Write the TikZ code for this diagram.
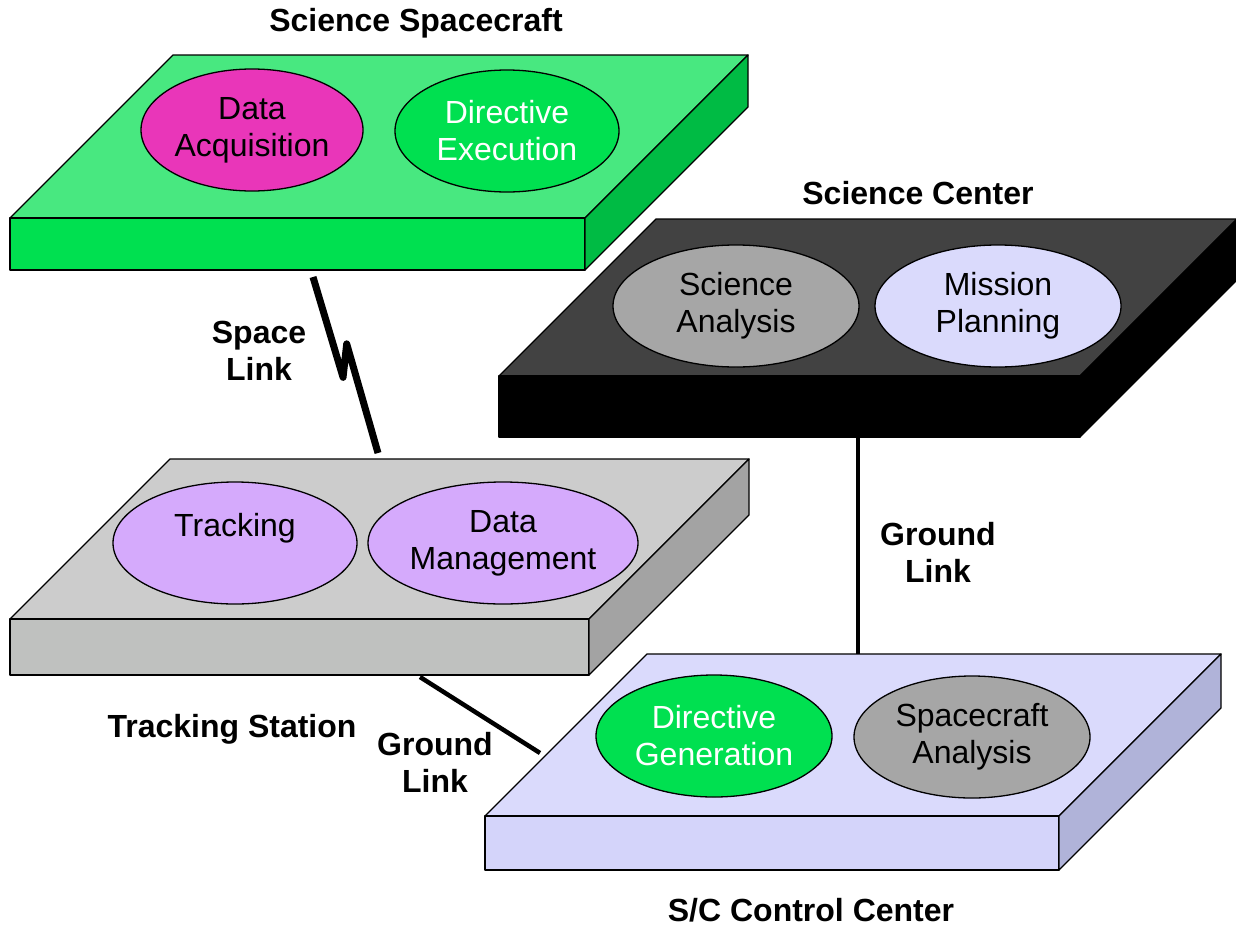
\documentclass[tikz,border=0pt]{standalone}
\usepackage{fontspec}
\setmainfont{Liberation Sans}
\usetikzlibrary{shapes.geometric,calc}

\definecolor{scTop}{HTML}{48E880}
\definecolor{scFront}{HTML}{00E050}
\definecolor{scSide}{HTML}{00BB44}
\definecolor{acqMag}{HTML}{E936B9}
\definecolor{ctrTop}{HTML}{424242}
\definecolor{anaGray}{HTML}{A6A6A6}
\definecolor{lavTop}{HTML}{DADAFC}
\definecolor{lavFront}{HTML}{D4D4FA}
\definecolor{lavSide}{HTML}{B0B3D9}
\definecolor{tsTop}{HTML}{CCCCCC}
\definecolor{tsFront}{HTML}{BFC1BF}
\definecolor{tsSide}{HTML}{A3A3A3}
\definecolor{trkPurple}{HTML}{D5AAFC}

% slab: x, y of front top-left, width, height, depth, top, front, side colours
\newcommand{\slab}[8]{%
  \filldraw[slabline,fill=#6] (#1,#2) -- ++(#5,-#5) -- ++(#3,0) -- ++(-#5,#5) -- cycle;
  \filldraw[slabline,fill=#7] (#1,#2) rectangle ++(#3,#4);
  \filldraw[slabline,fill=#8] (#1+#3,#2) -- ++(#5,-#5) -- ++(0,#4) -- ++(-#5,#5) -- cycle;
}

\begin{document}
\begin{tikzpicture}[x=1pt,y=-1pt,
  slabline/.style={draw=black,line width=1.3pt,line join=round},
  task/.style={ellipse,draw=black,line width=1.3pt,inner sep=0pt,minimum height=122pt,
    align=center,font=\fontsize{32}{37}\selectfont},
  lbl/.style={font=\fontsize{32}{37}\selectfont\bfseries,align=center},
  link/.style={line width=4.5pt}]
\useasboundingbox (0,0) rectangle (1236,926);
% Define the slabs
\slab{10}{218}{575}{52}{163}{scTop}{scFront}{scSide}
\slab{499}{376}{581}{61}{157}{ctrTop}{black}{black}
\slab{10}{619}{579}{56}{160}{tsTop}{tsFront}{tsSide}
\slab{485}{816}{574}{54}{162}{lavTop}{lavFront}{lavSide}
% Define the nodes
\node[task,fill=acqMag,minimum width=222pt] at (252,130) (acq) {Data\\Acquisition};
\node[task,fill=scFront,minimum width=224pt,text=white] at (507,131) (exe) {Directive\\Execution};
\node[task,fill=anaGray,minimum width=246pt] at (736,306) (sci) {Science\\Analysis};
\node[task,fill=lavTop,minimum width=246pt] at (998,306) (plan) {Mission\\Planning};
\node[task,fill=trkPurple,minimum width=244pt] at (235,543) (trk) {Tracking\\\mbox{}};
\node[task,fill=trkPurple,minimum width=270pt] at (503,543) (dm) {Data\\Management};
\node[task,fill=scFront,minimum width=236pt,text=white] at (714,736) (gen) {Directive\\Generation};
\node[task,fill=anaGray,minimum width=236pt] at (972,737) (sca) {Spacecraft\\Analysis};
\node[lbl] at (416,23) (scraft) {Science Spacecraft};
\node[lbl] at (918,193) (scen) {Science Center};
\node[lbl] at (232,729) (tstat) {Tracking Station};
\node[lbl] at (811,910) (ccen) {S/C Control Center};
\node[lbl] at (259,351) (splink) {Space\\Link};
\node[lbl] at (435,762) (gllink) {Ground\\Link};
\node[lbl] at (938,552) (grlink) {Ground\\Link};
% Draw the links
\coordinate (spTop) at (313,277);
\coordinate (spBot) at (378,453);
\coordinate (ctrBot) at (858,437);
\coordinate (ccTop) at (858,654);
\coordinate (tsBot) at (420,677);
\coordinate (ccEdge) at (540,753);
\draw[link,line width=7pt,line join=round] (spTop) -- ($(spTop)!0.57!(spBot)+(-7,0)$)
  -- ($(spTop)!0.38!(spBot)+(9,0)$) -- (spBot);
\draw[link] (ctrBot) -- (ccTop);
\draw[link] (tsBot) -- (ccEdge);
\end{tikzpicture}
\end{document}
